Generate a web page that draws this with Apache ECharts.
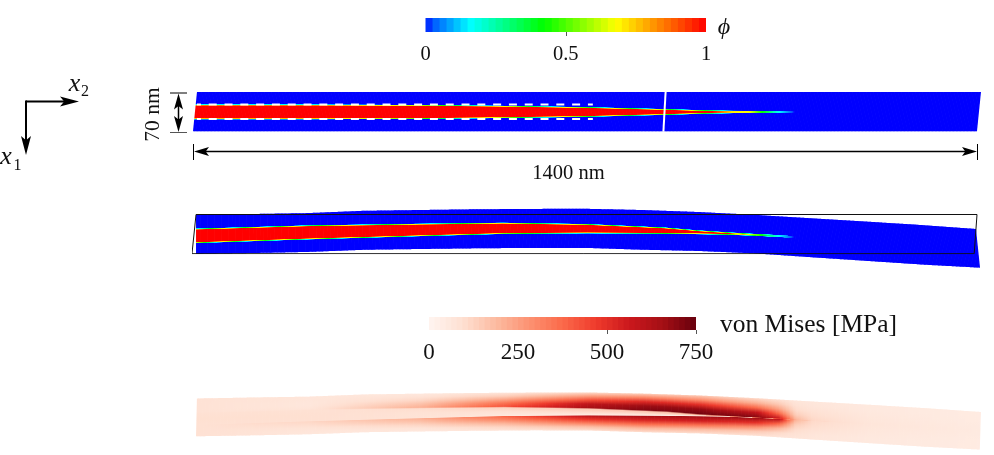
<!DOCTYPE html>
<html>
<head>
<meta charset="utf-8">
<title>Crack phase field and von Mises stress</title>
<script src="https://cdn.jsdelivr.net/npm/echarts@6/dist/echarts.min.js"></script>
<style>
  html, body { margin: 0; padding: 0; background: #fff; }
  #main { width: 994px; height: 455px; }
</style>
</head>
<body>
<div id="main"></div>
<script>
// all lengths in nm, x2 along the beam, x1 measured from the beam mid plane
const stripX = [0, 100, 200, 300, 400, 500, 600, 700, 800, 900, 1000, 1100, 1200, 1300, 1400];
const deformedTop = [-34.1, -35.9, -37.5, -41.6, -43.0, -44.3, -45.0, -45.2, -43.0, -39.5, -34.5, -28.4, -22.5, -16.3, -9.1];
const deformedBottom = [35.5, 33.8, 31.8, 28.0, 26.6, 25.4, 24.6, 24.8, 28.0, 30.2, 34.6, 41.4, 48.0, 54.6, 60.0];
const flatTop = [-35, -35];
const flatBottom = [35, 35];
const flatX = [0, 1400];

const crackX = [0, 200, 400, 550, 700, 840, 900, 960, 1010, 1040, 1070, 1400];
const crackPeak = [1, 1, 1, 1, 1, 1, 1, 1, 0.45, 0.18, 0, 0];
const flatCrackUpper = [-11.8, -11.8, -11.2, -9.6, -7.2, -3.8, -2.0, -0.7, -0.6, -0.5, -0.1, 0.7];
const flatCrackLower = [13.0, 13.0, 12.4, 10.8, 8.6, 5.2, 3.4, 2.1, 2.0, 1.9, 1.5, 0.7];
const bentCrackUpper = [-9.0, -14.8, -17.8, -19.6, -17.2, -11.0, -5.9, -2.0, 0.9, 2.3, 4.5, 24.8];
const bentCrackLower = [15.3, 8.7, 3.0, -1.0, -2.1, -1.3, -0.5, 0.7, 2.7, 4.2, 5.9, 24.8];

// von Mises in MPa, each row: top edge, three levels above the crack, crack face,
// inside crack (upper, middle, lower), crack face, three levels below, bottom edge
const vmX = [0, 200, 400, 550, 700, 800, 900, 1000, 1040, 1070, 1100, 1200, 1400];
const vmField = [
  [85, 85, 85, 85, 85, 90, 95, 90, 90, 90, 90, 90, 90],
  [70, 70, 65, 65, 75, 90, 95, 95, 115, 100, 80, 70, 65],
  [60, 85, 120, 170, 210, 100, 85, 80, 210, 170, 120, 80, 60],
  [75, 140, 240, 350, 420, 130, 90, 60, 380, 300, 200, 120, 70],
  [110, 260, 430, 590, 650, 150, 110, 40, 600, 480, 330, 180, 95],
  [140, 320, 520, 670, 710, 160, 120, 40, 640, 530, 370, 200, 100],
  [150, 300, 500, 680, 730, 200, 150, 50, 650, 550, 360, 190, 100],
  [110, 210, 370, 590, 700, 350, 200, 150, 660, 500, 290, 150, 85],
  [90, 150, 240, 380, 560, 430, 300, 300, 600, 380, 200, 110, 70],
  [70, 85, 105, 140, 200, 250, 250, 250, 200, 140, 105, 85, 70],
  [65, 70, 85, 100, 115, 120, 120, 120, 110, 100, 85, 70, 65],
  [55, 55, 60, 65, 70, 70, 70, 70, 70, 65, 60, 55, 55],
  [45, 45, 45, 48, 50, 50, 50, 50, 50, 48, 45, 45, 45]
];

const phiTicks = [0, 0.5, 1];
const vmTicks = [0, 250, 500, 750];
const phiStops = [0, 0.02, 0.16, 0.42, 0.68, 1];
const phiColors = ['#0000ff', '#0050ff', '#00ffff', '#00ff00', '#ffff00', '#ff0000'];
const vmStops = [0, 94, 188, 281, 375, 469, 563, 656, 750];
const vmColors = ['#fff5f0', '#fee0d2', '#fcbba1', '#fc9272', '#fb6a4a', '#ef3b2c', '#cb181d', '#a50f15', '#67000d'];

const SERIF = '"Liberation Serif", "Times New Roman", serif';

function lerpAt(xs, ys, x) {
  if (x <= xs[0]) return ys[0];
  for (let i = 1; i < xs.length; i++) {
    if (x <= xs[i]) {
      const t = (x - xs[i - 1]) / (xs[i] - xs[i - 1]);
      return ys[i - 1] + t * (ys[i] - ys[i - 1]);
    }
  }
  return ys[ys.length - 1];
}

function colorAt(stops, colors, v) {
  if (v <= stops[0]) return colors[0];
  for (let i = 1; i < stops.length; i++) {
    if (v <= stops[i]) {
      const t = (v - stops[i - 1]) / (stops[i] - stops[i - 1]);
      return echarts.color.lerp(t, [colors[i - 1], colors[i]]);
    }
  }
  return colors[colors.length - 1];
}

// colour profile across the thickness at x2 = x, for the phase field
function phiProfile(crackU, crackL) {
  const w = 1.3;
  return function (x) {
    const u = lerpAt(crackX, crackU, x), l = lerpAt(crackX, crackL, x);
    const peak = lerpAt(crackX, crackPeak, x);
    if (peak <= 0) return [];
    const c = (u + l) / 2, hw = (l - u) / 2;
    const levels = phiStops.filter(v => v < peak).concat([peak]);
    const upper = levels.map(v => [c - Math.max(0, hw + w * (1 - 2 * v)), colorAt(phiStops, phiColors, v)]);
    return upper.concat(upper.slice().reverse().map(p => [2 * c - p[0], p[1]]));
  };
}

// colour profile across the thickness for the stress field
function vmProfile(crackU, crackL) {
  return function (x, top, bottom) {
    const u = lerpAt(crackX, crackU, x), l = lerpAt(crackX, crackL, x);
    const c = (u + l) / 2;
    const pos = [top, top + (u - top) * 0.25, top + (u - top) * 0.5, top + (u - top) * 0.75, u,
      Math.min(u + 2.5, c), c, Math.max(l - 1.5, c), l,
      l + (bottom - l) * 0.25, l + (bottom - l) * 0.5, l + (bottom - l) * 0.75, bottom];
    return pos.map((y, j) => {
      const val = lerpAt(vmX, vmField.map(r => r[j]), x);
      return [y, colorAt(vmStops, vmColors, val)];
    });
  };
}

// one item per stripX interval, shaded as thin columns with a vertical gradient
function stripRenderer(cfg) {
  return function (params, api) {
    const x0 = api.value(0), x1 = api.value(1);
    const n = Math.ceil((x1 - x0) / 2.5);
    const children = [];
    for (let k = 0; k < n; k++) {
      const xa = x0 + (x1 - x0) * k / n, xb = x0 + (x1 - x0) * (k + 1) / n, xm = (xa + xb) / 2;
      const ta = lerpAt(cfg.x, cfg.top, xa), tb = lerpAt(cfg.x, cfg.top, xb), tm = (ta + tb) / 2;
      const ba = lerpAt(cfg.x, cfg.bottom, xa), bb = lerpAt(cfg.x, cfg.bottom, xb), bm = (ba + bb) / 2;
      const sta = lerpAt(flatX, cfg.shiftTop, xa), stb = lerpAt(flatX, cfg.shiftTop, xb);
      const sba = lerpAt(flatX, cfg.shiftBottom, xa), sbb = lerpAt(flatX, cfg.shiftBottom, xb);
      const over = xb >= 1400 ? 0 : 0.7;
      const p1 = api.coord([xa + sta, ta]), p2 = api.coord([xb + stb, tb]);
      const p3 = api.coord([xb + sbb, bb]), p4 = api.coord([xa + sba, ba]);
      p2[0] += over; p3[0] += over;
      const y0 = api.coord([xm, tm])[1], y1 = api.coord([xm, bm])[1];
      const prof = cfg.profile(xm, tm, bm);
      let fill = cfg.base;
      if (prof.length) {
        const colorStops = [];
        prof.forEach(p => {
          const off = Math.min(1, Math.max(0, (p[0] - tm) / (bm - tm)));
          colorStops.push({ offset: off, color: p[1] });
        });
        fill = { type: 'linear', x: 0, y: y0, x2: 0, y2: y1, colorStops: colorStops, global: true };
      }
      children.push({ type: 'polygon', shape: { points: [p1, p2, p3, p4] }, style: { fill: fill } });
    }
    return { type: 'group', children: children };
  };
}

function barRenderer(stops, colors) {
  return function (params, api) {
    const a = api.value(0), b = api.value(1);
    const p0 = api.coord([a, 1]), p1 = api.coord([b, 0]);
    return {
      type: 'rect',
      shape: { x: p0[0], y: p0[1], width: p1[0] - p0[0] + (b < stops[stops.length - 1] ? 1 : 0), height: p1[1] - p0[1] },
      style: { fill: colorAt(stops, colors, (a + b) / 2) }
    };
  };
}

function barCells(maxV, steps) {
  const cells = [];
  for (let i = 0; i < steps; i++) cells.push([maxV * i / steps, maxV * (i + 1) / steps]);
  return cells;
}

const stripCells = stripX.slice(0, -1).map((x, i) => [x, stripX[i + 1]]);

function hiddenAxis(idx, min, max, inverse) {
  return { gridIndex: idx, type: 'value', min: min, max: max, inverse: !!inverse, show: false };
}

function colorbarX(idx, max, ticks, tickAt, size, margin) {
  return {
    gridIndex: idx, type: 'value', min: 0, max: max, interval: ticks[1] - ticks[0],
    axisLine: { show: false }, splitLine: { show: false },
    axisTick: { show: true, length: 4, customValues: tickAt, lineStyle: { color: '#555', width: 1 } },
    axisLabel: {
      show: true, fontFamily: SERIF, fontSize: size, color: '#111', margin: margin,
      formatter: v => String(v), showMinLabel: true, showMaxLabel: true, hideOverlap: false
    }
  };
}

const NM_LEFT = 193, NM_WIDTH = 784;

const option = {
  backgroundColor: '#fff',
  animation: false,
  textStyle: { fontFamily: SERIF },
  grid: [
    { left: 425.5, width: 280.5, top: 18, height: 14 },
    { left: 429, width: 267, top: 317, height: 13 },
    { left: NM_LEFT, width: NM_WIDTH, top: 92, height: 39.2 },
    { left: NM_LEFT, width: NM_WIDTH, top: 214.5, height: 39.2 },
    { left: NM_LEFT, width: NM_WIDTH, top: 398, height: 38 }
  ],
  xAxis: [
    colorbarX(0, 1, phiTicks, [0.5], 20.5, 12),
    colorbarX(1, 750, vmTicks, [500, 750], 23, 11),
    hiddenAxis(2, 0, 1400),
    hiddenAxis(3, 0, 1400),
    hiddenAxis(4, 0, 1400)
  ],
  yAxis: [
    hiddenAxis(0, 0, 1),
    hiddenAxis(1, 0, 1),
    hiddenAxis(2, -35, 35, true),
    hiddenAxis(3, -35, 35, true),
    hiddenAxis(4, -35, 35, true)
  ],
  series: [
    {
      type: 'custom', xAxisIndex: 0, yAxisIndex: 0, silent: true, coordinateSystem: 'cartesian2d',
      data: barCells(1, 40), encode: { x: [0, 1] },
      renderItem: barRenderer(phiStops, phiColors)
    },
    {
      type: 'custom', xAxisIndex: 1, yAxisIndex: 1, silent: true,
      data: barCells(750, 48), encode: { x: [0, 1] },
      renderItem: barRenderer(vmStops, vmColors)
    },
    {
      type: 'custom', xAxisIndex: 2, yAxisIndex: 2, silent: true, z: 2,
      data: stripCells, encode: { x: [0, 1] },
      renderItem: stripRenderer({
        x: flatX, top: flatTop, bottom: flatBottom, base: '#0000ff',
        shiftTop: [7.1, 7.1], shiftBottom: [0, 0],
        profile: phiProfile(flatCrackUpper, flatCrackLower)
      })
    },
    {
      // white dashed lines either side of the initial crack
      type: 'line', xAxisIndex: 2, yAxisIndex: 2, silent: true, z: 3, symbol: 'none',
      data: [[7, -12.5], [714, -12.5]],
      lineStyle: { color: '#fff', width: 2, type: [8, 7.8], dashOffset: 4 }
    },
    {
      type: 'line', xAxisIndex: 2, yAxisIndex: 2, silent: true, z: 3, symbol: 'none',
      data: [[7, 13.2], [714, 13.2]],
      lineStyle: { color: '#fff', width: 2, type: [8, 7.8], dashOffset: 4 }
    },
    {
      // mesh gap across the beam
      type: 'line', xAxisIndex: 2, yAxisIndex: 2, silent: true, z: 3, symbol: 'none',
      data: [[844, -36], [840, 36]],
      lineStyle: { color: '#fff', width: 2 }
    },
    {
      type: 'custom', xAxisIndex: 3, yAxisIndex: 3, silent: true, z: 2,
      data: stripCells, encode: { x: [0, 1] },
      renderItem: stripRenderer({
        x: stripX, top: deformedTop, bottom: deformedBottom, base: '#0000ff',
        shiftTop: [5.4, -1.8], shiftBottom: [5.4, 5.4],
        profile: phiProfile(bentCrackUpper, bentCrackLower)
      })
    },
    {
      // undeformed outline
      type: 'line', xAxisIndex: 3, yAxisIndex: 3, silent: true, z: 3, symbol: 'none',
      data: [[5.4, -35], [1400, -35], [1395, 35], [-1.8, 35], [5.4, -35]],
      lineStyle: { color: '#111', width: 1 }
    },
    {
      type: 'custom', xAxisIndex: 4, yAxisIndex: 4, silent: true, z: 2,
      data: stripCells, encode: { x: [0, 1] },
      renderItem: stripRenderer({
        x: stripX, top: deformedTop, bottom: deformedBottom, base: '#fee5d9',
        shiftTop: [7, 7], shiftBottom: [5.4, 5],
        profile: vmProfile(bentCrackUpper, bentCrackLower)
      })
    }
  ],
  graphic: {
    elements: buildAnnotations()
  }
};

function arrowHead(tipX, tipY, dx, dy, len, half) {
  // swept-back head pointing along (dx, dy)
  const nx = -dy, ny = dx;
  return {
    type: 'polygon', silent: true, z: 20,
    shape: {
      points: [
        [tipX, tipY],
        [tipX - dx * len + nx * half, tipY - dy * len + ny * half],
        [tipX - dx * len * 0.78, tipY - dy * len * 0.78],
        [tipX - dx * len - nx * half, tipY - dy * len - ny * half]
      ]
    },
    style: { fill: '#000' }
  };
}

function seg(x1, y1, x2, y2, color, width) {
  return {
    type: 'line', silent: true, z: 20,
    shape: { x1: x1, y1: y1, x2: x2, y2: y2 },
    style: { stroke: color || '#000', lineWidth: width || 1 }
  };
}

function label(text, x, y, size, extra) {
  return Object.assign({
    type: 'text', silent: true, z: 20, x: x, y: y,
    style: {
      text: text, fill: '#111', fontFamily: SERIF, fontSize: size,
      align: 'center', verticalAlign: 'middle'
    }
  }, extra || {});
}

function italic(text, x, y, size) {
  const el = label(text, x, y, size);
  el.style.fontStyle = 'italic';
  return el;
}

function buildAnnotations() {
  const rotated = label('70 nm', 153.5, 114.5, 21.5, { rotation: Math.PI / 2 });
  return [
    // axes triad
    seg(26, 101.5, 68, 101.5, '#000', 2),
    seg(26, 100.5, 26, 144, '#000', 2),
    arrowHead(79, 101.5, 1, 0, 19, 5),
    arrowHead(26, 155, 0, 1, 19, 5),
    italic('x', 74.5, 84, 26),
    label('2', 85, 92, 16),
    italic('x', 6, 157, 26),
    label('1', 17.5, 166, 16),
    // 70 nm dimension
    seg(170, 93, 187, 93),
    seg(170, 132.5, 187, 132.5, '#555'),
    seg(178.5, 100, 178.5, 126, '#000', 1.5),
    arrowHead(178.5, 93.5, 0, -1, 16, 4.5),
    arrowHead(178.5, 132, 0, 1, 16, 4.5),
    rotated,
    // 1400 nm dimension
    seg(193.5, 144, 193.5, 160),
    seg(977.5, 144, 977.5, 160),
    seg(200, 151.5, 970, 151.5, '#000', 1.5),
    arrowHead(194, 151.5, -1, 0, 15, 4.5),
    arrowHead(977, 151.5, 1, 0, 15, 4.5),
    label('1400 nm', 568.5, 174, 20.5),
    // colour bar captions
    italic('\u03d5', 724, 28, 24),
    label('von Mises [MPa]', 808.5, 325, 25.5)
  ];
}

const chart = echarts.init(document.getElementById('main'), null, { renderer: 'canvas' });
chart.setOption(option);
</script>
</body>
</html>
